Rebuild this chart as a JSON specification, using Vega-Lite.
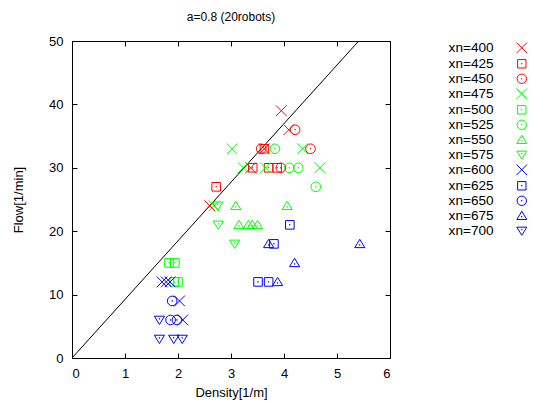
{
  "$schema": "https://vega.github.io/schema/vega-lite/v6.json",
  "autosize": "none",
  "width": 318,
  "height": 317,
  "padding": {"left": 72, "top": 41, "right": 143, "bottom": 45},
  "background": "white",
  "config": {
    "font": "Liberation Sans",
    "view": {"stroke": "black", "strokeWidth": 1},
    "axis": {"labelFont": "Liberation Sans", "titleFont": "Liberation Sans", "labelFontSize": 13, "titleFontSize": 13, "labelColor": "black", "titleColor": "black", "domainColor": "black", "tickColor": "black", "grid": false, "titleFontWeight": "normal"},
    "title": {"font": "Liberation Sans", "fontSize": 12, "fontWeight": "normal", "color": "black"}
  },
  "title": {"text": "a=0.8 (20robots)", "offset": 11},
  "datasets": {
    "pts": [
      {"xn": "xn=400", "density": 3.95, "flow": 39},
      {"xn": "xn=400", "density": 4.09, "flow": 36},
      {"xn": "xn=400", "density": 3.63, "flow": 33},
      {"xn": "xn=400", "density": 3.37, "flow": 30},
      {"xn": "xn=400", "density": 2.6, "flow": 24},
      {"xn": "xn=425", "density": 3.63, "flow": 33},
      {"xn": "xn=425", "density": 3.41, "flow": 30},
      {"xn": "xn=425", "density": 3.71, "flow": 30},
      {"xn": "xn=425", "density": 3.87, "flow": 30},
      {"xn": "xn=425", "density": 2.72, "flow": 27},
      {"xn": "xn=450", "density": 4.21, "flow": 36},
      {"xn": "xn=450", "density": 4.5, "flow": 33},
      {"xn": "xn=450", "density": 3.57, "flow": 33},
      {"xn": "xn=450", "density": 3.94, "flow": 30},
      {"xn": "xn=475", "density": 3.02, "flow": 33},
      {"xn": "xn=475", "density": 4.35, "flow": 33},
      {"xn": "xn=475", "density": 3.23, "flow": 30},
      {"xn": "xn=475", "density": 3.65, "flow": 30},
      {"xn": "xn=475", "density": 4.68, "flow": 30},
      {"xn": "xn=475", "density": 2.68, "flow": 24},
      {"xn": "xn=500", "density": 1.83, "flow": 15},
      {"xn": "xn=500", "density": 1.94, "flow": 15},
      {"xn": "xn=500", "density": 1.93, "flow": 12},
      {"xn": "xn=500", "density": 2.0, "flow": 12},
      {"xn": "xn=525", "density": 3.83, "flow": 33},
      {"xn": "xn=525", "density": 4.1, "flow": 30},
      {"xn": "xn=525", "density": 4.27, "flow": 30},
      {"xn": "xn=525", "density": 4.6, "flow": 27},
      {"xn": "xn=550", "density": 3.09, "flow": 24},
      {"xn": "xn=550", "density": 4.06, "flow": 24},
      {"xn": "xn=550", "density": 3.15, "flow": 21},
      {"xn": "xn=550", "density": 3.33, "flow": 21},
      {"xn": "xn=550", "density": 3.4, "flow": 21},
      {"xn": "xn=550", "density": 3.5, "flow": 21},
      {"xn": "xn=575", "density": 2.75, "flow": 24},
      {"xn": "xn=575", "density": 2.76, "flow": 21},
      {"xn": "xn=575", "density": 3.07, "flow": 18},
      {"xn": "xn=600", "density": 1.7, "flow": 12},
      {"xn": "xn=600", "density": 1.78, "flow": 12},
      {"xn": "xn=600", "density": 1.85, "flow": 12},
      {"xn": "xn=600", "density": 2.03, "flow": 9},
      {"xn": "xn=600", "density": 2.09, "flow": 6},
      {"xn": "xn=625", "density": 4.11, "flow": 21},
      {"xn": "xn=625", "density": 3.81, "flow": 18},
      {"xn": "xn=625", "density": 3.51, "flow": 12},
      {"xn": "xn=625", "density": 3.71, "flow": 12},
      {"xn": "xn=650", "density": 1.89, "flow": 9},
      {"xn": "xn=650", "density": 1.86, "flow": 6},
      {"xn": "xn=650", "density": 1.98, "flow": 6},
      {"xn": "xn=675", "density": 3.71, "flow": 18},
      {"xn": "xn=675", "density": 5.43, "flow": 18},
      {"xn": "xn=675", "density": 4.2, "flow": 15},
      {"xn": "xn=675", "density": 3.88, "flow": 12},
      {"xn": "xn=700", "density": 1.65, "flow": 6},
      {"xn": "xn=700", "density": 1.65, "flow": 3},
      {"xn": "xn=700", "density": 1.92, "flow": 3},
      {"xn": "xn=700", "density": 2.08, "flow": 3}
    ],
    "line": [
      {"density": 0, "flow": 0},
      {"density": 5.41, "flow": 50}
    ]
  },
  "layer": [
    {
      "data": {"name": "line"},
      "mark": {"type": "line", "color": "black", "strokeWidth": 1},
      "encoding": {
        "x": {"field": "density", "type": "quantitative", "scale": {"domain": [0, 6], "nice": false, "zero": false},
          "axis": {"orient": "bottom", "title": "Density[1/m]", "values": [0, 1, 2, 3, 4, 5, 6], "tickSize": -5, "labelPadding": 14, "titlePadding": 6, "domain": false}},
        "y": {"field": "flow", "type": "quantitative", "scale": {"domain": [0, 50], "nice": false, "zero": false},
          "axis": {"orient": "left", "title": "Flow[1/min]", "values": [0, 10, 20, 30, 40, 50], "tickSize": -5, "labelPadding": 14, "titlePadding": 23, "domain": false}}
      }
    },
    {
      "data": {"name": "pts"},
      "mark": {"type": "point", "filled": false, "strokeWidth": 1, "size": 115, "opacity": 1},
      "encoding": {
        "x": {"field": "density", "type": "quantitative", "axis": null},
        "y": {"field": "flow", "type": "quantitative", "axis": null},
        "color": {"field": "xn", "type": "nominal",
          "scale": {"domain": ["xn=400","xn=425","xn=450","xn=475","xn=500","xn=525","xn=550","xn=575","xn=600","xn=625","xn=650","xn=675","xn=700"],
            "range": ["#ff0000","#ff0000","#ff0000","#00ff00","#00ff00","#00ff00","#00ff00","#00ff00","#0000ff","#0000ff","#0000ff","#0000ff","#0000ff"]},
          "legend": {"title": null, "orient": "none", "legendX": 443, "legendY": 0, "labelAlign": "right", "labelOffset": -35, "labelFontSize": 13.6, "labelFont": "Liberation Sans", "labelColor": "black", "symbolSize": 110, "symbolStrokeWidth": 1, "rowPadding": 0, "padding": 0, "symbolType": "circle"}},
        "shape": {"field": "xn", "type": "nominal",
          "scale": {"domain": ["xn=400","xn=425","xn=450","xn=475","xn=500","xn=525","xn=550","xn=575","xn=600","xn=625","xn=650","xn=675","xn=700"],
            "range": [
              "M-1,-1L1,1M-1,1L1,-1",
              "M-0.8,-0.8H0.8V0.8H-0.8Z M-0.05,-0.05h0.1v0.1h-0.1Z",
              "M0.9,0A0.9,0.9 0 1,1 -0.9,0A0.9,0.9 0 1,1 0.9,0Z M-0.05,-0.05h0.1v0.1h-0.1Z",
              "M-1,-1L1,1M-1,1L1,-1",
              "M-0.8,-0.8H0.8V0.8H-0.8Z M-0.05,-0.05h0.1v0.1h-0.1Z",
              "M0.9,0A0.9,0.9 0 1,1 -0.9,0A0.9,0.9 0 1,1 0.9,0Z M-0.05,-0.05h0.1v0.1h-0.1Z",
              "M0,-0.85L0.95,0.7L-0.95,0.7Z M-0.05,0.15h0.1v0.1h-0.1Z",
              "M0,0.85L0.95,-0.7L-0.95,-0.7Z M-0.05,-0.25h0.1v0.1h-0.1Z",
              "M-1,-1L1,1M-1,1L1,-1",
              "M-0.8,-0.8H0.8V0.8H-0.8Z M-0.05,-0.05h0.1v0.1h-0.1Z",
              "M0.9,0A0.9,0.9 0 1,1 -0.9,0A0.9,0.9 0 1,1 0.9,0Z M-0.05,-0.05h0.1v0.1h-0.1Z",
              "M0,-0.85L0.95,0.7L-0.95,0.7Z M-0.05,0.15h0.1v0.1h-0.1Z",
              "M0,0.85L0.95,-0.7L-0.95,-0.7Z M-0.05,-0.25h0.1v0.1h-0.1Z"
            ]},
          "legend": null}
      }
    },
    {
      "data": {"name": "line"},
      "mark": {"type": "point", "opacity": 0},
      "encoding": {
        "x": {"field": "density", "type": "quantitative", "axis": {"orient": "top", "labels": false, "title": null, "values": [0, 1, 2, 3, 4, 5, 6], "tickSize": -5, "domain": false}},
        "y": {"field": "flow", "type": "quantitative", "axis": {"orient": "right", "labels": false, "title": null, "values": [0, 10, 20, 30, 40, 50], "tickSize": -5, "domain": false}}
      }
    }
  ],
  "resolve": {"axis": {"x": "independent", "y": "independent"}}
}
